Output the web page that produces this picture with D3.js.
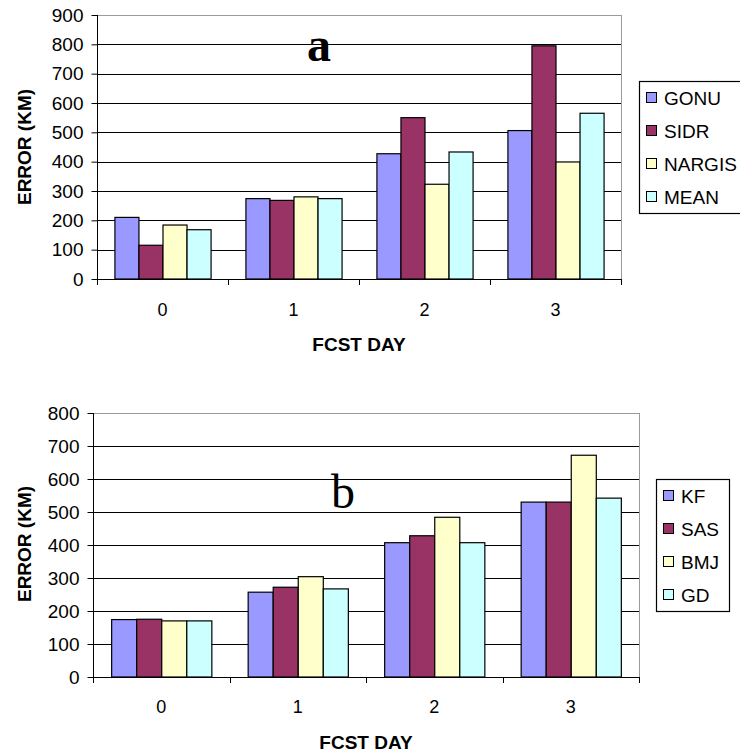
<!DOCTYPE html>
<html>
<head>
<meta charset="utf-8">
<script src="https://cdn.jsdelivr.net/npm/d3@7"></script>
<style>
  html, body { margin: 0; padding: 0; background: #fff; }
  svg { display: block; }
  text { font-family: Arial, "Liberation Sans", sans-serif; fill: #000; }
</style>
</head>
<body>
<svg id="chart" width="740" height="755"></svg>
<script>
// ---------- DATA ----------
const days = ["0", "1", "2", "3"];

// Panel a
const seriesA = ["GONU", "SIDR", "NARGIS", "MEAN"];
const gonu   = [210, 274, 427, 506];
const sidr   = [115, 268, 550, 795];
const nargis = [184, 280, 323, 399];
const meanA  = [168, 274, 433, 565];
const yTicksA = [0, 100, 200, 300, 400, 500, 600, 700, 800, 900];

// Panel b
const seriesB = ["KF", "SAS", "BMJ", "GD"];
const kf  = [174, 257, 407, 530];
const sas = [175, 272, 428, 530];
const bmj = [170, 304, 484, 672];
const gd  = [170, 267, 407, 542];
const yTicksB = [0, 100, 200, 300, 400, 500, 600, 700, 800];

const colors = ["#9999FF", "#993366", "#FFFFCC", "#CCFFFF"];

// ---------- DRAW ----------
const svg = d3.select("#chart");

function drawPanel(cfg) {
  const g = svg.append("g");
  const { x0, x1, yTop, yBot, yMax, series, values, ticks } = cfg;

  const x = d3.scaleBand().domain(days).range([x0, x1]).padding(0);
  const bw = x.bandwidth();
  const inner = d3.scaleBand().domain(series).range([bw * 0.133, bw * 0.867]).padding(0);
  const y = d3.scaleLinear().domain([0, yMax]).range([yBot, yTop]);
  const color = d3.scaleOrdinal().domain(series).range(colors);

  // plot area border (gray)
  g.append("rect")
    .attr("x", x0 + 0.5).attr("y", yTop + 0.5)
    .attr("width", x1 - x0).attr("height", yBot - yTop)
    .attr("fill", "none").attr("stroke", "#9a9a9a").attr("stroke-width", 1);

  // gridlines
  g.append("g").selectAll("line")
    .data(ticks.filter(t => t > 0 && t < yMax))
    .join("line")
    .attr("x1", x0).attr("x2", x1)
    .attr("y1", d => Math.round(y(d)) + 0.5).attr("y2", d => Math.round(y(d)) + 0.5)
    .attr("stroke", "#000").attr("stroke-width", 1);

  // bars
  const rows = days.map((d, i) => ({ day: d, vals: series.map((s, k) => ({ s, v: values[k][i] })) }));
  g.append("g").selectAll("g")
    .data(rows).join("g")
    .attr("transform", d => `translate(${x(d.day)},0)`)
    .selectAll("rect")
    .data(d => d.vals).join("rect")
    .attr("x", d => inner(d.s) + 0.5)
    .attr("y", d => y(d.v))
    .attr("width", inner.bandwidth())
    .attr("height", d => yBot - y(d.v))
    .attr("fill", d => color(d.s))
    .attr("stroke", "#000").attr("stroke-width", 1.2);

  // y axis
  const ya = d3.axisLeft(y).tickValues(ticks).tickSize(6).tickPadding(8).tickFormat(d3.format("d"));
  const yg = g.append("g").attr("transform", `translate(${x0 + 0.5},0)`).call(ya);
  yg.select(".domain").attr("stroke", "#000").attr("d", `M0,${yTop}V${yBot}`);
  yg.selectAll(".tick line").attr("stroke", "#000");
  yg.selectAll(".tick text").attr("font-size", 19).attr("font-family", "Arial, 'Liberation Sans', sans-serif").attr("fill", "#000");

  // x axis line and boundary ticks
  g.append("line").attr("x1", x0).attr("x2", x1 + 1)
    .attr("y1", yBot + 0.5).attr("y2", yBot + 0.5).attr("stroke", "#000");
  const bounds = days.map(d => x(d)).concat([x.range()[1]]);
  g.append("g").selectAll("line").data(bounds).join("line")
    .attr("x1", d => Math.round(d) + 0.5).attr("x2", d => Math.round(d) + 0.5)
    .attr("y1", yBot).attr("y2", yBot + 6).attr("stroke", "#000");

  // x labels
  g.append("g").selectAll("text").data(days).join("text")
    .attr("x", d => x(d) + bw / 2).attr("y", cfg.xLabY)
    .attr("text-anchor", "middle").attr("font-size", 18).text(d => d);

  // x title
  g.append("text").attr("x", (x0 + x1) / 2).attr("y", cfg.xTitleY)
    .attr("text-anchor", "middle").attr("font-size", 19).attr("font-weight", "bold")
    .text("FCST DAY");

  // y title
  g.append("text")
    .attr("transform", `translate(${cfg.yTitleX},${cfg.yTitleY}) rotate(-90)`)
    .attr("text-anchor", "middle").attr("font-size", 19).attr("font-weight", "bold")
    .text("ERROR (KM)");

  // panel letter
  g.append("text").attr("x", cfg.letterX).attr("y", cfg.letterY)
    .attr("text-anchor", "middle")
    .style("font-family", "'Liberation Serif', 'Times New Roman', serif")
    .attr("font-size", cfg.letterSize).attr("font-weight", cfg.letterWeight)
    .text(cfg.letter);

  // legend
  const L = cfg.legend;
  const lg = g.append("g");
  lg.append("rect").attr("x", L.x + 0.5).attr("y", L.y + 0.5)
    .attr("width", L.w).attr("height", L.h)
    .attr("fill", "#fff").attr("stroke", "#000").attr("stroke-width", 1.2);
  const items = lg.selectAll("g").data(series).join("g")
    .attr("transform", (d, i) => `translate(${L.x + 7},${L.y + 17 + i * L.step})`);
  items.append("rect").attr("x", 0.5).attr("y", -5.5).attr("width", 10).attr("height", 10)
    .attr("fill", d => color(d)).attr("stroke", "#000").attr("stroke-width", 1);
  items.append("text").attr("x", 18).attr("y", 7).attr("font-size", 19).text(d => d);
}

drawPanel({
  x0: 97, x1: 621, yTop: 15, yBot: 279, yMax: 900,
  series: seriesA, values: [gonu, sidr, nargis, meanA], ticks: yTicksA,
  xLabY: 316, xTitleY: 351, yTitleX: 31, yTitleY: 147,
  letter: "a", letterX: 319, letterY: 61, letterSize: 48, letterWeight: "bold",
  legend: { x: 639, y: 81, w: 120, h: 132, step: 33 }
});

drawPanel({
  x0: 93, x1: 639, yTop: 413, yBot: 677, yMax: 800,
  series: seriesB, values: [kf, sas, bmj, gd], ticks: yTicksB,
  xLabY: 713, xTitleY: 749, yTitleX: 31, yTitleY: 544,
  letter: "b", letterX: 343, letterY: 508, letterSize: 48, letterWeight: "normal",
  legend: { x: 656, y: 479, w: 73, h: 132, step: 33 }
});
</script>
</body>
</html>
